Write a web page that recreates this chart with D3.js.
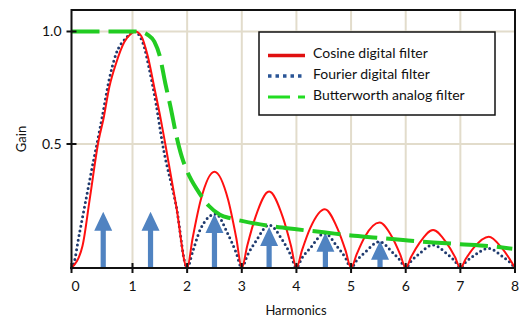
<!DOCTYPE html>
<html><head><meta charset="utf-8">
<script src="https://cdn.jsdelivr.net/npm/d3@7"></script>
<style>body{margin:0;background:#fff}svg{display:block}text{font-family:Lato,"Open Sans",sans-serif;fill:#111}</style>
</head><body><svg id="c" width="520" height="320"></svg>
<script>
// ---- data ----
const xTicks = [0,1,2,3,4,5,6,7,8];
const yTicks = [0.5,1.0];
const yTickLabels = ["0.5","1.0"];
const seriesNames = ["Cosine digital filter","Fourier digital filter","Butterworth analog filter"];

const cosX = [0,0.18,0.3,0.446,0.52,0.62,0.73,0.866,0.975,1.05,1.16,1.28,1.40,1.52,1.60,1.8,2.0,
  2.1,2.25,2.5,2.75,2.9,3.0, 3.1,3.25,3.5,3.75,3.9,4.0, 4.1,4.25,4.52,4.75,4.9,5.0,
  5.1,5.25,5.52,5.75,5.9,6.0, 6.1,6.25,6.5,6.75,6.9,7.0, 7.1,7.25,7.52,7.75,7.9,8.0];
const cosY = [0,0.089,0.28,0.518,0.606,0.753,0.858,0.953,0.99,1.0,0.98,0.89,0.75,0.606,0.5,0.25,0,
  0.12,0.275,0.388,0.275,0.12,0, 0.09,0.205,0.308,0.205,0.09,0, 0.07,0.16,0.237,0.16,0.07,0,
  0.054,0.125,0.183,0.125,0.054,0, 0.045,0.1,0.153,0.1,0.045,0, 0.037,0.083,0.126,0.083,0.037,0];

const fouX = [0,0.02,0.13,0.24,0.35,0.43,0.51,0.62,0.73,0.89,1.03,1.19,1.31,1.43,1.55,1.8,2.0,
  2.1,2.25,2.52,2.75,2.9,3.0, 3.1,3.25,3.5,3.75,3.9,4.0, 4.1,4.25,4.52,4.75,4.9,5.0,
  5.1,5.25,5.52,5.75,5.9,6.0, 6.1,6.25,6.5,6.75,6.9,7.0, 7.1,7.25,7.52,7.75,7.9,8.0];
const fouY = [0,0.005,0.14,0.28,0.42,0.518,0.63,0.79,0.90,0.97,1.0,0.95,0.83,0.68,0.5,0.25,0,
  0.065,0.16,0.218,0.135,0.06,0, 0.05,0.105,0.173,0.11,0.05,0, 0.04,0.08,0.14,0.085,0.04,0,
  0.03,0.062,0.106,0.065,0.03,0, 0.028,0.058,0.093,0.058,0.028,0, 0.024,0.05,0.079,0.05,0.024,0];

const butX = [0,1.0,1.15,1.28,1.4,1.5,1.6,1.7,1.8,1.9,2.0,2.2,2.4,2.6,2.8,3.0,3.5,4.0,4.5,5.0,5.5,6.0,6.5,7.0,7.5,7.95];
const butY = [1.0,1.0,0.998,0.985,0.955,0.89,0.77,0.66,0.54,0.45,0.39,0.31,0.25,0.215,0.2,0.19,0.17,0.156,0.144,0.131,0.122,0.112,0.103,0.096,0.089,0.078];

const arrowX = [0.52,1.33,2.5,3.5,4.53,5.53];
const arrowY = [0.227,0.227,0.218,0.165,0.142,0.11];

// ---- layout ----
const svg = d3.select("#c");
const x = d3.scaleLinear().domain([0,1,8]).range([71.5,132.5,515]);
const y = d3.scaleLinear().domain([0,0.5,1]).range([268,144,31.5]);
const topY = 10;
const grid = "#e2dccb";

// gridlines
svg.append("g").selectAll("line").data(xTicks.filter(d=>d>0&&d<8)).join("line")
  .attr("x1",d=>x(d)).attr("x2",d=>x(d)).attr("y1",topY).attr("y2",y(0))
  .attr("stroke",grid).attr("stroke-width",2);
svg.append("g").selectAll("line").data(yTicks).join("line")
  .attr("x1",x(0)).attr("x2",x(8)).attr("y1",d=>y(d)).attr("y2",d=>y(d))
  .attr("stroke",grid).attr("stroke-width",2);

// frame
svg.append("path").attr("d",`M${x(0)},${topY}H${x(8)}V${y(0)}`).attr("fill","none").attr("stroke","#111").attr("stroke-width",2);

// arrows
const ag = svg.append("g").attr("fill","#5083c1");
arrowX.forEach((ax,i)=>{
  const cx = x(ax), ty = y(arrowY[i]), by = y(0), hw = 9, hh = 19, sw = 2.6;
  ag.append("path").attr("d",
    `M${cx},${ty}L${cx+hw},${ty+hh}L${cx+sw},${ty+hh}L${cx+sw},${by}L${cx-sw},${by}L${cx-sw},${ty+hh}L${cx-hw},${ty+hh}Z`);
});

const line = d3.line().x(d=>x(d[0])).y(d=>y(d[1])).curve(d3.curveMonotoneX);
// curves
svg.append("path").attr("d",line(d3.zip(fouX,fouY))).attr("fill","none")
  .attr("stroke","#1f3a6e").attr("stroke-width",3).attr("stroke-dasharray","0,4.8").attr("stroke-linecap","round");
svg.append("path").attr("d",line(d3.zip(cosX,cosY))).attr("fill","none")
  .attr("stroke","#ff1010").attr("stroke-width",2);
svg.append("path").attr("d",line(d3.zip(butX,butY))).attr("fill","none")
  .attr("stroke","#22cc22").attr("stroke-width",4).attr("stroke-dasharray","28,9");

// axes
svg.append("line").attr("x1",x(0)).attr("x2",x(0)).attr("y1",topY-1).attr("y2",y(0)+1).attr("stroke","#111").attr("stroke-width",2);
svg.append("line").attr("x1",x(0)-1).attr("x2",x(8)+1).attr("y1",y(0)).attr("y2",y(0)).attr("stroke","#111").attr("stroke-width",2);
svg.append("g").selectAll("line").data(xTicks).join("line")
  .attr("x1",d=>x(d)).attr("x2",d=>x(d)).attr("y1",y(0)-5).attr("y2",y(0)+5).attr("stroke","#111").attr("stroke-width",2);
svg.append("g").selectAll("line").data(yTicks).join("line")
  .attr("x1",x(0)-5).attr("x2",x(0)+5).attr("y1",d=>y(d)).attr("y2",d=>y(d)).attr("stroke","#111").attr("stroke-width",2);
svg.append("g").selectAll("text").data(xTicks).join("text")
  .attr("x",d=>x(d)+(d===0?4:0)).attr("y",y(0)+18).attr("dy","0.35em").attr("text-anchor","middle")
  .attr("font-size",14).text(d=>d);
svg.append("g").selectAll("text").data(yTicks).join("text")
  .attr("x",x(0)-10).attr("y",d=>y(d)).attr("dy","0.35em").attr("text-anchor","end")
  .attr("font-size",14).text((d,i)=>yTickLabels[i]);
svg.append("text").attr("transform","translate(26,139) rotate(-90)").attr("text-anchor","middle")
  .attr("font-size",13).text("Gain");
svg.append("text").attr("x",296).attr("y",310).attr("dy","0.35em").attr("text-anchor","middle")
  .attr("font-size",13).text("Harmonics");

// legend
const lg = svg.append("g");
lg.append("rect").attr("x",259).attr("y",32).attr("width",236).attr("height",83)
  .attr("fill","#fff").attr("stroke","#111").attr("stroke-width",1.5);
const rowsY = [55.5,76,97];
const styles = [
  {stroke:"#e01010",w:3.5,dash:null,cap:"butt"},
  {stroke:"#2a5596",w:3.5,dash:"3.5,4",cap:"butt"},
  {stroke:"#22dd22",w:3,dash:"22,8",cap:"butt"}];
seriesNames.forEach((n,i)=>{
  const s = styles[i];
  const l = lg.append("line").attr("x1",268).attr("x2",305).attr("y1",rowsY[i]).attr("y2",rowsY[i])
    .attr("stroke",s.stroke).attr("stroke-width",s.w).attr("stroke-linecap",s.cap);
  if(s.dash) l.attr("stroke-dasharray",s.dash);
  lg.append("text").attr("x",313).attr("y",rowsY[i]-2).attr("dy","0.35em").attr("font-size",14).text(n);
});
</script></body></html>
